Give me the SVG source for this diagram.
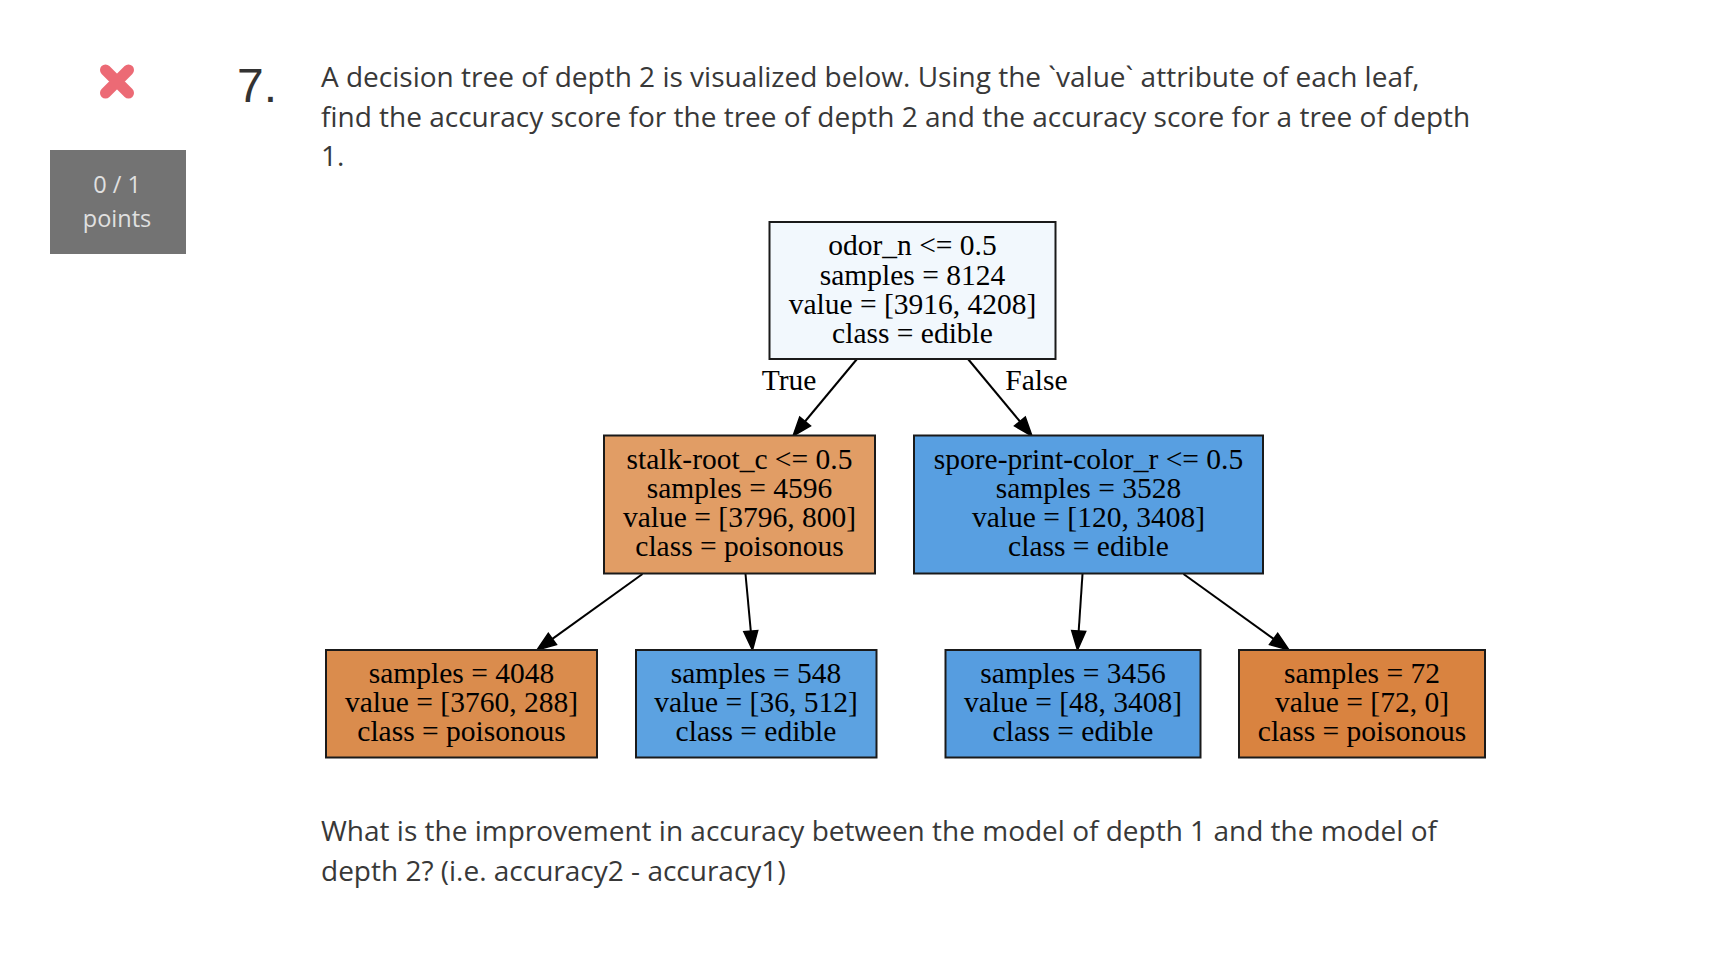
<svg xmlns="http://www.w3.org/2000/svg" width="1736" height="972" viewBox="0 0 1736 972">
<style>
.q{font-family:"Open Sans","Noto Sans",sans-serif;font-size:28px;fill:#383838}
.n{font-family:"Liberation Serif","Times New Roman",serif;font-size:29.5px;fill:#000;text-anchor:middle}
.box{stroke:#1a1a1a;stroke-width:2}
.e{stroke:#000;stroke-width:2;fill:none}
.ah{fill:#000;stroke:#000;stroke-width:1.5}
.s{font-family:"Open Sans",sans-serif;font-size:23.5px;fill:#e0e0e0;text-anchor:middle}
</style>
<rect width="1736" height="972" fill="#fff"/>
<g id="mark">
<path d="M105.5 70 L128.5 93 M128.5 70 L105.5 93" stroke="#ec6a75" stroke-width="11" stroke-linecap="round"/>
</g>
<g id="score">
<rect x="50" y="150" width="136" height="104" fill="#737373"/>
<text class="s" x="117" y="192.5">0 / 1</text>
<text class="s" x="117" y="227">points</text>
</g>
<text x="237" y="102" font-family="'Liberation Sans',Arial,sans-serif" font-size="48" fill="#333">7.</text>
<g id="question">
<text class="q" x="321" y="86.5">A decision tree of depth 2 is visualized below. Using the `value` attribute of each leaf,</text>
<text class="q" x="321" y="126.5">find the accuracy score for the tree of depth 2 and the accuracy score for a tree of depth</text>
<text class="q" x="321" y="166">1.</text>
<text class="q" x="321" y="841">What is the improvement in accuracy between the model of depth 1 and the model of</text>
<text class="q" x="321" y="881">depth 2? (i.e. accuracy2 - accuracy1)</text>
</g>
<g id="connectors">
<line class="e" x1="857" y1="359" x2="805" y2="421.5"/>
<polygon class="ah" points="793,436 810.5,425.9 799.7,416.9"/>
<line class="e" x1="968" y1="359" x2="1020" y2="421.5"/>
<polygon class="ah" points="1032,436 1025.3,416.9 1014.5,425.9"/>
<line class="e" x1="642.5" y1="574" x2="552.4" y2="638.9"/>
<polygon class="ah" points="537,650 556.5,644.6 548.3,633.2"/>
<line class="e" x1="745.5" y1="574" x2="750.8" y2="631.1"/>
<polygon class="ah" points="752.5,650 757.7,630.5 743.8,631.7"/>
<line class="e" x1="1082.5" y1="574" x2="1078.7" y2="631"/>
<polygon class="ah" points="1077.5,650 1085.7,631.5 1071.7,630.6"/>
<line class="e" x1="1183.5" y1="574" x2="1273.6" y2="638.9"/>
<polygon class="ah" points="1289,650 1277.7,633.2 1269.5,644.6"/>
<text class="n" x="789" y="390">True</text>
<text class="n" x="1036.5" y="390">False</text>
</g>
<g id="root">
<rect class="box" x="769.5" y="222" width="286" height="137" fill="#f2f8fd"/>
<text class="n" x="912.5" y="255">odor_n &lt;= 0.5</text>
<text class="n" x="912.5" y="284.5">samples = 8124</text>
<text class="n" x="912.5" y="314">value = [3916, 4208]</text>
<text class="n" x="912.5" y="343">class = edible</text>
</g>
<g id="stalk">
<rect class="box" x="604" y="435.5" width="271" height="138" fill="#e19d65"/>
<text class="n" x="739.5" y="469">stalk-root_c &lt;= 0.5</text>
<text class="n" x="739.5" y="497.5">samples = 4596</text>
<text class="n" x="739.5" y="527">value = [3796, 800]</text>
<text class="n" x="739.5" y="556">class = poisonous</text>
</g>
<g id="spore">
<rect class="box" x="914" y="435.5" width="349" height="138" fill="#589fe1"/>
<text class="n" x="1088.5" y="469">spore-print-color_r &lt;= 0.5</text>
<text class="n" x="1088.5" y="497.5">samples = 3528</text>
<text class="n" x="1088.5" y="527">value = [120, 3408]</text>
<text class="n" x="1088.5" y="556">class = edible</text>
</g>
<g id="leaf1">
<rect class="box" x="326" y="650" width="271" height="107.5" fill="#da8c4d"/>
<text class="n" x="461.5" y="683">samples = 4048</text>
<text class="n" x="461.5" y="712">value = [3760, 288]</text>
<text class="n" x="461.5" y="741">class = poisonous</text>
</g>
<g id="leaf2">
<rect class="box" x="636" y="650" width="240.5" height="107.5" fill="#5ca2e1"/>
<text class="n" x="756" y="683">samples = 548</text>
<text class="n" x="756" y="712">value = [36, 512]</text>
<text class="n" x="756" y="741">class = edible</text>
</g>
<g id="leaf3">
<rect class="box" x="945.5" y="650" width="255" height="107.5" fill="#569de0"/>
<text class="n" x="1073" y="683">samples = 3456</text>
<text class="n" x="1073" y="712">value = [48, 3408]</text>
<text class="n" x="1073" y="741">class = edible</text>
</g>
<g id="leaf4">
<rect class="box" x="1239" y="650" width="246" height="107.5" fill="#d98340"/>
<text class="n" x="1362" y="683">samples = 72</text>
<text class="n" x="1362" y="712">value = [72, 0]</text>
<text class="n" x="1362" y="741">class = poisonous</text>
</g>
</svg>
